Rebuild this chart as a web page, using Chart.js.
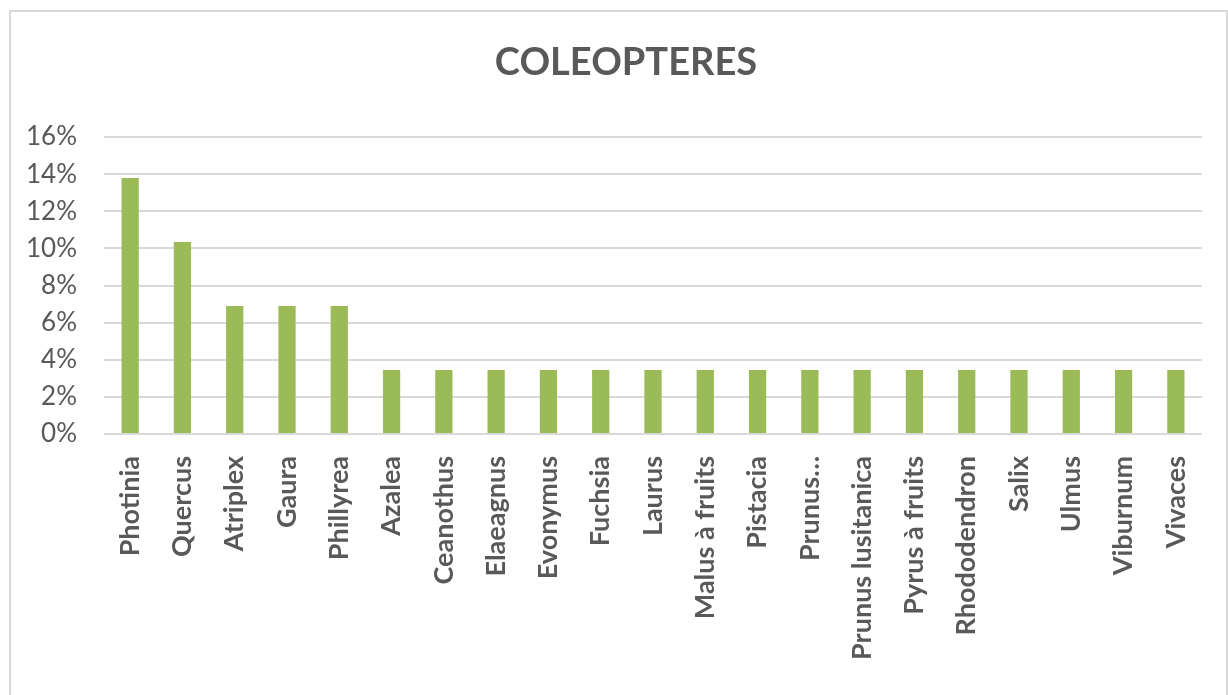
<!DOCTYPE html>
<html>
<head>
<meta charset="utf-8">
<script src="https://cdn.jsdelivr.net/npm/chart.js@4/dist/chart.umd.min.js"></script>
<style>
  body { margin: 0; background: #fff; }
  canvas { display: block; }
</style>
</head>
<body>
<canvas id="chart" width="1228" height="695"></canvas>
<script>
const categories = [
  "Photinia", "Quercus", "Atriplex", "Gaura", "Phillyrea", "Azalea", "Ceanothus",
  "Elaeagnus", "Evonymus", "Fuchsia", "Laurus", "Malus à fruits", "Pistacia",
  "Prunus…", "Prunus lusitanica", "Pyrus à fruits", "Rhododendron", "Salix",
  "Ulmus", "Viburnum", "Vivaces"
];
// percentages
const shares = [
  13.79, 10.34, 6.9, 6.9, 6.9, 3.45, 3.45,
  3.45, 3.45, 3.45, 3.45, 3.45, 3.45,
  3.45, 3.45, 3.45, 3.45, 3.45,
  3.45, 3.45, 3.45
];
const yTicks = [0, 2, 4, 6, 8, 10, 12, 14, 16];
const titleText = "COLEOPTERES";

const textColor = "#595959";
const gridColor = "#D9D9D9";

// outer frame (cut by the picture on the right and bottom) and the title
const frame = {
  id: "frame",
  beforeDraw(chart) {
    const ctx = chart.ctx;
    ctx.save();
    ctx.fillStyle = "#fff";
    ctx.fillRect(0, 0, chart.width, chart.height);
    ctx.strokeStyle = gridColor;
    ctx.lineWidth = 2;
    ctx.strokeRect(10, 11, 1217, 760);
    ctx.fillStyle = textColor;
    ctx.font = "bold 38px Lato";
    ctx.textAlign = "center";
    ctx.textBaseline = "middle";
    ctx.fillText(titleText, 626, 63);
    ctx.restore();
  }
};

new Chart(document.getElementById("chart"), {
  type: "bar",
  data: {
    labels: categories,
    datasets: [{
      data: shares,
      backgroundColor: "#9BBB59",
      borderWidth: 0,
      barPercentage: 0.33,
      categoryPercentage: 1
    }]
  },
  options: {
    responsive: false,
    animation: false,
    layout: { padding: { left: 10, right: 26, top: 137, bottom: 0 } },
    plugins: {
      legend: { display: false },
      tooltip: { enabled: false },
      title: { display: false }
    },
    scales: {
      x: {
        grid: { display: false },
        border: { display: false },
        ticks: {
          color: textColor,
          font: { family: "Lato", size: 27, weight: "bold" },
          minRotation: 90,
          maxRotation: 90,
          autoSkip: false,
          padding: 14
        },
        afterFit(scale) { scale.height = 261; }
      },
      y: {
        min: 0,
        max: 16,
        afterBuildTicks(scale) { scale.ticks = yTicks.map(v => ({ value: v })); },
        grid: { color: gridColor, lineWidth: 2, drawTicks: false },
        border: { display: false },
        ticks: {
          color: textColor,
          font: { family: "Lato", size: 26 },
          padding: 27,
          callback: v => v + "%"
        },
        afterFit(scale) { scale.width = 94; }
      }
    }
  },
  plugins: [frame]
});
</script>
</body>
</html>
